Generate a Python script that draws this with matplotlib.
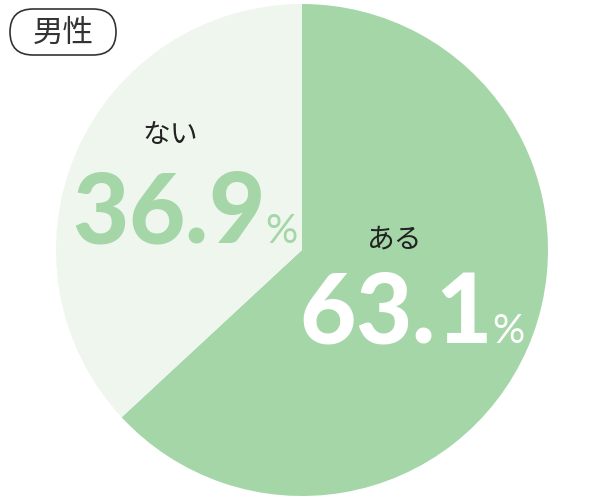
import matplotlib
matplotlib.use("Agg")
import matplotlib.pyplot as plt
from matplotlib.patches import FancyBboxPatch

title = "男性"
labels = ["ある", "ない"]
values = [63.1, 36.9]
colors = ["#a5d6a7", "#eef6ee"]
num_colors = ["#ffffff", "#a5d6a7"]

H = 502
fig = plt.figure(figsize=(6.0, 5.02), dpi=100)
ax = fig.add_axes([0, 0, 1, 1])
ax.axis("off")

cx, cy, r = 302, H - 251, 246
ax.pie(values, colors=colors, startangle=90, counterclock=False,
       center=(cx, cy), radius=r, wedgeprops=dict(linewidth=0))
ax.set_xlim(0, 600)
ax.set_ylim(0, H)
ax.set_aspect("equal")

jp = ["Noto Sans CJK JP", "DejaVu Sans"]

box = FancyBboxPatch((10, H - 56), 106, 46, boxstyle="round,pad=0,rounding_size=23",
                     fc="white", ec="#333333", lw=1.2)
ax.add_patch(box)
ax.text(63, H - 33, title, family=jp, fontsize=22, ha="center", va="center", color="#333333")

renderer = fig.canvas.get_renderer()

def tight_text(x_left, y_base, s, size, color, track):
    x = x_left
    for ch in s:
        t = ax.text(x, y_base, ch, family="Lato", fontweight="black", fontsize=size,
                    ha="left", va="baseline", color=color)
        bb = t.get_window_extent(renderer=renderer)
        x += bb.width - track
    return x

lab_pos = [(395, 240), (170, 135)]
num_left = [(299, 343), (72, 243)]
for lab, v, lp, nl, nc in zip(labels, values, lab_pos, num_left, num_colors):
    ax.text(lp[0], H - lp[1], lab, family=jp, fontsize=20, ha="center", va="center", color="#222222")
    xe = tight_text(nl[0], H - nl[1], f"{v:.1f}", 70, nc, 0)
    ax.text(xe + 1, H - nl[1], "%", family="Lato", fontweight="normal",
            fontsize=29, ha="left", va="baseline", color=nc)

fig.savefig("out.png", dpi=100)
